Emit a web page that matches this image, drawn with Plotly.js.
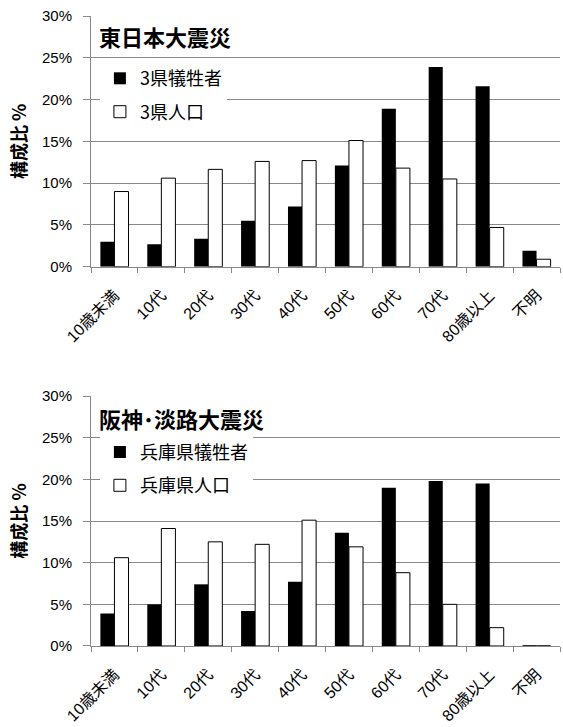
<!DOCTYPE html>
<html>
<head>
<meta charset="utf-8">
<script src="https://cdn.plot.ly/plotly-3.0.1.min.js"></script>
<style>
  html, body { margin: 0; padding: 0; background: #fff; }
  #chart { width: 563px; height: 727px; }
</style>
</head>
<body>
<div id="chart"></div>
<script>
// Age groups shared by both panels
const ageGroups = ['10歳未満', '10代', '20代', '30代', '40代', '50代', '60代', '70代', '80歳以上', '不明'];

// 東日本大震災: victims and population of the three prefectures (%)
const eastVictims    = [3.0, 2.7, 3.35, 5.5, 7.2, 12.1, 18.9, 23.9, 21.6, 1.9];
const eastPopulation = [9.0, 10.6, 11.65, 12.6, 12.7, 15.1, 11.8, 10.5, 4.7, 0.9];

// 阪神・淡路大震災: victims and population of Hyogo prefecture (%)
const hanshinVictims    = [3.9, 5.0, 7.4, 4.2, 7.7, 13.6, 19.0, 19.8, 19.5, 0.1];
const hanshinPopulation = [10.6, 14.1, 12.5, 12.2, 15.1, 11.9, 8.8, 5.0, 2.2, 0.0];

const panelTitles = ['東日本大震災', '阪神･淡路大震災'];
const seriesNames = [['3県犠牲者', '3県人口'], ['兵庫県犠牲者', '兵庫県人口']];
const yTitle = '構成比 %';

const FONT = 'Liberation Sans, Noto Sans CJK JP, sans-serif';
const CJK = 'Noto Sans CJK JP, sans-serif';
const GRID = '#888888';

function victimBar(y, name, xa, ya, legend) {
  return {
    type: 'bar', x: ageGroups, y: y, name: name,
    xaxis: xa, yaxis: ya, legend: legend, legendgroup: name,
    marker: { color: '#000000', line: { color: '#000000', width: 0 } },
    hoverinfo: 'x+y'
  };
}
function populationBar(y, name, xa, ya, legend) {
  return {
    type: 'bar', x: ageGroups, y: y, name: name,
    xaxis: xa, yaxis: ya, legend: legend, legendgroup: name,
    marker: { color: '#ffffff', line: { color: '#000000', width: 1 } },
    hoverinfo: 'x+y'
  };
}

const data = [
  victimBar(eastVictims, seriesNames[0][0], 'x', 'y', 'legend'),
  populationBar(eastPopulation, seriesNames[0][1], 'x', 'y', 'legend'),
  victimBar(hanshinVictims, seriesNames[1][0], 'x2', 'y2', 'legend2'),
  populationBar(hanshinPopulation, seriesNames[1][1], 'x2', 'y2', 'legend2')
];

function xAxis(anchor) {
  return {
    anchor: anchor, domain: [0, 1], type: 'category',
    showgrid: false, showline: true, linecolor: GRID, linewidth: 1,
    ticks: 'outside', tickson: 'boundaries', ticklen: 5, tickcolor: GRID, tickwidth: 1,
    tickangle: -45, ticklabelstandoff: 12,
    tickfont: { family: FONT, size: 16, color: '#000' },
    fixedrange: true
  };
}
function yAxis(anchor, domain) {
  return {
    anchor: anchor, domain: domain, range: [0, 30], dtick: 5, tick0: 0,
    ticksuffix: '%', showgrid: true, gridcolor: GRID, gridwidth: 1,
    zeroline: false, showline: true, linecolor: GRID, linewidth: 1,
    ticks: 'outside', ticklen: 7, tickcolor: GRID, tickwidth: 1,
    ticklabelstandoff: 8,
    tickfont: { family: FONT, size: 15, color: '#000' },
    title: { text: yTitle, standoff: 10, font: { family: CJK, size: 18, weight: 'bold', color: '#000' } },
    fixedrange: true
  };
}
function legendBox(y) {
  return {
    x: 0.019, xanchor: 'left', y: y, yanchor: 'top',
    bgcolor: '#ffffff', borderwidth: 0,
    font: { family: CJK, size: 18, color: '#000' },
    tracegroupgap: 7, traceorder: 'grouped'
  };
}

const layout = {
  width: 563, height: 727,
  margin: { l: 91, r: 3, t: 16, b: 81 },
  paper_bgcolor: '#ffffff', plot_bgcolor: '#ffffff',
  barmode: 'group', bargap: 0.4, bargroupgap: 0,
  showlegend: true,
  xaxis: xAxis('y'),
  yaxis: yAxis('x', [0.602, 1]),
  xaxis2: xAxis('y2'),
  yaxis2: yAxis('x2', [0, 0.3968]),
  legend: legendBox(0.930),
  legend2: legendBox(0.337),
  annotations: [
    { text: panelTitles[0], xref: 'paper', yref: 'paper', x: 0.013, y: 0.9675,
      xanchor: 'left', yanchor: 'middle', showarrow: false,
      font: { family: CJK, size: 22, weight: 'bold', color: '#000' } },
    { text: panelTitles[1], xref: 'paper', yref: 'paper', x: 0.013, y: 0.362,
      xanchor: 'left', yanchor: 'middle', showarrow: false,
      font: { family: CJK, size: 22, weight: 'bold', color: '#000' } }
  ]
};

Plotly.newPlot('chart', data, layout, { staticPlot: true, displayModeBar: false });
</script>
</body>
</html>
